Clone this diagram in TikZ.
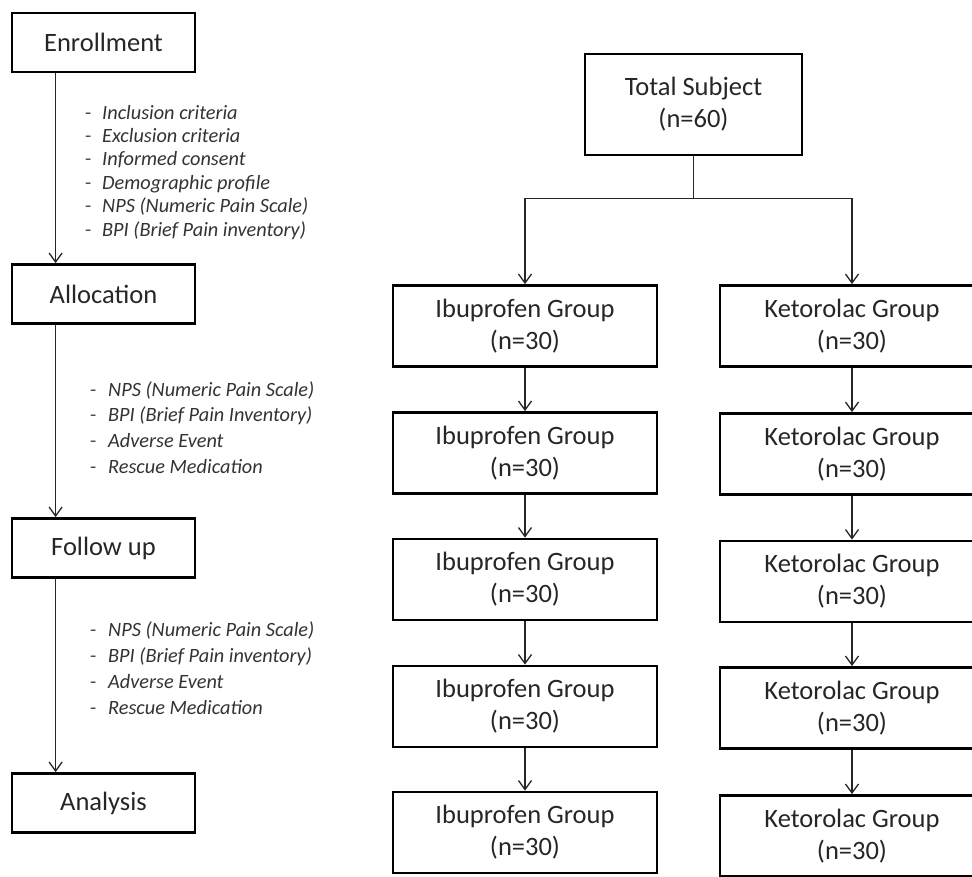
\documentclass[tikz,border=0pt]{standalone}
\usepackage{fontspec}
\setmainfont{Carlito}
\usetikzlibrary{arrows.meta}
\begin{document}
\begin{tikzpicture}[x=1pt,y=-1pt,
  box/.style={draw=black, line width=2.8pt, inner sep=0pt, align=center,
    font=\fontsize{26.5}{32}\selectfont, text=black!85},
  lbox/.style={box, minimum width=183pt, minimum height=59pt},
  gbox/.style={box, minimum width=264pt, minimum height=81pt},
  conn/.style={draw=black!85, line width=1.5pt, -{Straight Barb[length=9pt,width=13pt,line width=1.3pt]}},
  listtxt/.style={anchor=base west, inner sep=0pt, text=black!80,
    font=\fontsize{20.3}{24}\selectfont\itshape},
  dashtxt/.style={anchor=base west, inner sep=0pt, text=black!70,
    font=\fontsize{20.3}{24}\selectfont}]
\useasboundingbox (0,0) rectangle (972,876);
\clip (0,0) rectangle (972,876);
\fill[white] (0,0) rectangle (972,876);

% left column
\node[lbox] (enr) at (103.5,42.5) {Enrollment};
\node[lbox] (alloc) at (103.5,294) {Allocation};
\node[lbox] (fup) at (103.5,548) {Follow up};
\node[lbox] (ana) at (103.5,803) {Analysis};

\draw[conn] ([xshift=45pt]enr.south west) -- ([xshift=45pt]alloc.north west);
\draw[conn] ([xshift=45pt]alloc.south west) -- ([xshift=45pt]fup.north west);
\draw[conn] ([xshift=45pt]fup.south west) -- ([xshift=45pt]ana.north west);

\foreach \t [count=\i] in {Inclusion criteria,Exclusion criteria,Informed consent,Demographic profile,NPS (Numeric Pain Scale),BPI (Brief Pain inventory)} {
  \node[dashtxt] (ed\i) at (85,{119+23.4*(\i-1)}) {-};
  \node[listtxt] (el\i) at (102,{119+23.4*(\i-1)}) {\t};
}
\foreach \t [count=\i] in {NPS (Numeric Pain Scale),BPI (Brief Pain Inventory),Adverse Event,Rescue Medication} {
  \node[dashtxt] (ad\i) at (90,{396+25.7*(\i-1)}) {-};
  \node[listtxt] (al\i) at (108,{396+25.7*(\i-1)}) {\t};
}
\foreach \t [count=\i] in {NPS (Numeric Pain Scale),BPI (Brief Pain inventory),Adverse Event,Rescue Medication} {
  \node[dashtxt] (fd\i) at (90,{636+26*(\i-1)}) {-};
  \node[listtxt] (fl\i) at (108,{636+26*(\i-1)}) {\t};
}

% right part
\node[box, minimum width=217pt, minimum height=101pt] (tot) at (693.5,104.5) {Total Subject\\(n=60)};

\node[gbox] (ibu1) at (525,326) {Ibuprofen Group\\(n=30)};
\node[gbox] (ibu2) at (525,453) {Ibuprofen Group\\(n=30)};
\node[gbox] (ibu3) at (525,579.5) {Ibuprofen Group\\(n=30)};
\node[gbox] (ibu4) at (525,706.5) {Ibuprofen Group\\(n=30)};
\node[gbox] (ibu5) at (525,832.5) {Ibuprofen Group\\(n=30)};

\node[gbox] (ket1) at (852,326) {Ketorolac Group\\(n=30)};
\node[gbox] (ket2) at (852,454) {Ketorolac Group\\(n=30)};
\node[gbox] (ket3) at (852,581.5) {Ketorolac Group\\(n=30)};
\node[gbox] (ket4) at (852,708) {Ketorolac Group\\(n=30)};
\node[gbox] (ket5) at (852,836) {Ketorolac Group\\(n=30)};

\coordinate (split) at ([yshift=-42pt]tot.south);
\draw[line width=1.5pt, draw=black!85] (tot.south) -- (split);
\draw[conn] (split) -| (ibu1.north);
\draw[conn] (split) -| (ket1.north);

\foreach \a/\b in {1/2,2/3,3/4,4/5} {
  \draw[conn] (ibu\a.south) -- (ibu\b.north);
  \draw[conn] (ket\a.south) -- (ket\b.north);
}
\end{tikzpicture}
\end{document}
